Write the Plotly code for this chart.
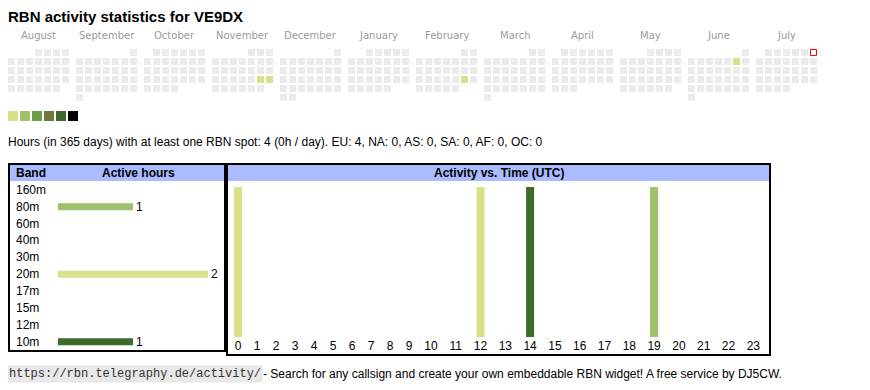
import calendar
import datetime as dt
import plotly.graph_objects as go

# ---------------- data ----------------
CALLSIGN = "VE9DX"
MONTH_NAMES = ["August", "September", "October", "November", "December", "January",
               "February", "March", "April", "May", "June", "July"]
FIRST_MONTH = (2024, 8)
TODAY = "2025-07-06"
ACTIVE_DAYS = ["2024-11-23", "2024-11-24", "2025-02-22", "2025-06-07"]
ACTIVE_DAY_LEVELS = [1, 1, 1, 1]
LEVEL_COLORS = ["#d9e08a", "#9dc26b", "#6a9f47", "#6b7b3c", "#3e6b2b", "#000000"]

BANDS = ["160m", "80m", "60m", "40m", "30m", "20m", "17m", "15m", "12m", "10m"]
BAND_HOURS = [0, 1, 0, 0, 0, 2, 0, 0, 0, 1]
BAND_COLORS = ["#c0c0c0", "#9dc26b", "#c0c0c0", "#c0c0c0", "#c0c0c0",
               "#d9e08a", "#c0c0c0", "#c0c0c0", "#c0c0c0", "#3e6b2b"]

HOURS = list(range(24))
ACTIVE_HOURS = [0, 12, 14, 19]
ACTIVE_HOUR_BANDS = ["20m", "20m", "10m", "80m"]
ACTIVE_HOUR_COUNTS = [1, 1, 1, 1]

CONTINENTS = ["EU", "NA", "AS", "SA", "AF", "OC"]
CONTINENT_HOURS = [4, 0, 0, 0, 0, 0]
TOTAL_HOURS = 4

# ---------------- layout helpers ----------------
# the page body has an 8px margin; the figure therefore starts at screen (8, 8)
OFF = 8
W, H = 862, 382
SANS = "Liberation Sans, Arial, sans-serif"
GREY_CELL = "#ebebeb"
HEADER_BG = "#aabbff"


def fx(px):
    return (px - OFF) / W


def fy(py):
    return 1 - (py - OFF) / H


fig = go.Figure()

# ---- calendar heatmap (canvas axis in screen pixel units) ----
active_map = {d: lv for d, lv in zip(ACTIVE_DAYS, ACTIVE_DAY_LEVELS)}
cx, cy, ccol = [], [], []
today_xy = None
y0, m0 = FIRST_MONTH
for mi in range(12):
    yy = y0 + (m0 - 1 + mi) // 12
    mm = (m0 - 1 + mi) % 12 + 1
    fw = dt.date(yy, mm, 1).weekday()
    nd = calendar.monthrange(yy, mm)[1]
    for d in range(1, nd + 1):
        pos = d - 1 + fw
        x = 11.5 + mi * 68 + (pos % 7) * 9
        y = 52.5 + (pos // 7) * 9
        key = dt.date(yy, mm, d).isoformat()
        cx.append(x)
        cy.append(y)
        lv = active_map.get(key)
        ccol.append(LEVEL_COLORS[lv - 1] if lv else GREY_CELL)
        if key == TODAY:
            today_xy = (x, y)

fig.add_trace(go.Scatter(x=cx, y=cy, mode="markers", xaxis="x", yaxis="y",
                         marker=dict(symbol="square", size=7, color=ccol, line=dict(width=0)),
                         hoverinfo="skip"))
if today_xy:
    fig.add_trace(go.Scatter(x=[today_xy[0]], y=[today_xy[1]], mode="markers",
                             xaxis="x", yaxis="y",
                             marker=dict(symbol="square", size=6, color="#ffffff",
                                         line=dict(width=1, color="#ff0000")),
                             hoverinfo="skip"))

# month labels
for mi, name in enumerate(MONTH_NAMES):
    fig.add_annotation(x=38.5 + mi * 68, y=35, xref="x", yref="y", text=name,
                       showarrow=False, xanchor="center", yanchor="middle",
                       font=dict(family="DejaVu Sans", size=10, color="#9a9a9a"))

# colour legend
fig.add_trace(go.Scatter(x=[13 + i * 12 for i in range(len(LEVEL_COLORS))],
                         y=[116] * len(LEVEL_COLORS), mode="markers", xaxis="x", yaxis="y",
                         marker=dict(symbol="square", size=10, color=LEVEL_COLORS,
                                     line=dict(width=0)),
                         hoverinfo="skip"))

# ---- band bars ----
fig.add_trace(go.Bar(y=BANDS, x=BAND_HOURS, orientation="h", xaxis="x2", yaxis="y2",
                     marker=dict(color=BAND_COLORS, line=dict(width=0)), width=0.42,
                     text=[str(v) if v else "" for v in BAND_HOURS], textposition="outside",
                     cliponaxis=False, constraintext="none",
                     textfont=dict(family=SANS, size=12, color="#000"), hoverinfo="skip"))

# ---- hour bars ----
hour_x = []
left = 228.5
for h in HOURS:
    w = 19.0 if h < 10 else 24.8
    hour_x.append(left + w / 2)
    left += w

band_color = dict(zip(BANDS, BAND_COLORS))
for b in dict.fromkeys(ACTIVE_HOUR_BANDS):
    xs = [hour_x[h] for h, bb in zip(ACTIVE_HOURS, ACTIVE_HOUR_BANDS) if bb == b]
    ys = [c for c, bb in zip(ACTIVE_HOUR_COUNTS, ACTIVE_HOUR_BANDS) if bb == b]
    fig.add_trace(go.Bar(x=xs, y=ys, width=8, xaxis="x3", yaxis="y3",
                         marker=dict(color=band_color[b], line=dict(width=0)),
                         hoverinfo="skip"))


# ---- text ----
def ann(x, y, text, size=12, bold=False, family=SANS, xanchor="left", color="#000", **kw):
    fig.add_annotation(x=x, y=y, xref="x", yref="y", text=text, showarrow=False,
                       xanchor=xanchor, yanchor="middle",
                       font=dict(family=family, size=size, color=color,
                                 weight="bold" if bold else "normal"), **kw)


ann(8, 16, f"RBN activity statistics for {CALLSIGN}", size=15, bold=True, xshift=-2)
cont = ", ".join(f"{c}: {v}" for c, v in zip(CONTINENTS, CONTINENT_HOURS))
ann(8, 142, f"Hours (in 365 days) with at least one RBN spot: {TOTAL_HOURS} "
            f"({TOTAL_HOURS / 365:.0f}h / day). {cont}", size=12, xshift=-2)

ann(14, 173, "Band", size=12, bold=True)
ann(138, 173, "Active hours", size=12, bold=True, xanchor="center")
ann(498.5, 173, "Activity vs. Time (UTC)", size=12, bold=True, xanchor="center")

for b in BANDS:
    fig.add_annotation(x=fx(14), y=b, xref="paper", yref="y2", text=b, showarrow=False,
                       xanchor="left", yanchor="middle",
                       font=dict(family=SANS, size=12, color="#000"))

ann(8, 374, "https://rbn.telegraphy.de/activity/", size=12,
    family="Liberation Mono, Courier New, monospace", color="#333", bgcolor="#e8e8e8",
    borderpad=1, xshift=-1)
ann(261, 374, "- Search for any callsign and create your own embeddable RBN widget! "
              "A free service by DJ5CW.", size=12)

# ---- boxes ----
shapes = [
    dict(type="rect", x0=10, x1=224, y0=165, y1=181, fillcolor=HEADER_BG, line=dict(width=0),
         layer="below"),
    dict(type="rect", x0=228, x1=769, y0=165, y1=181, fillcolor=HEADER_BG, line=dict(width=0),
         layer="below"),
    dict(type="rect", x0=9, x1=225, y0=164, y1=351, line=dict(color="#000", width=2)),
    dict(type="rect", x0=227, x1=770, y0=164, y1=355, line=dict(color="#000", width=2)),
]
for s in shapes:
    s.update(xref="x", yref="y")

row_top, row_h = 180.8, 17
fig.update_layout(
    width=W, height=H, margin=dict(l=0, r=0, t=0, b=0),
    paper_bgcolor="#ffffff", plot_bgcolor="rgba(0,0,0,0)", showlegend=False,
    shapes=shapes, barmode="overlay",
    xaxis=dict(domain=[0, 1], range=[OFF, OFF + W], visible=False, fixedrange=True),
    yaxis=dict(domain=[0, 1], range=[OFF + H, OFF], visible=False, fixedrange=True),
    xaxis2=dict(domain=[fx(58), fx(58 + 2.2 * 75)], range=[0, 2.2], visible=False,
                anchor="y2"),
    yaxis2=dict(domain=[fy(row_top + row_h * len(BANDS)), fy(row_top)],
                categoryorder="array", categoryarray=BANDS, autorange="reversed",
                visible=False, anchor="x2"),
    xaxis3=dict(domain=[0, 1], range=[OFF, OFF + W], anchor="y3", tickvals=hour_x,
                ticktext=[str(h) for h in HOURS], ticks="", showgrid=False, zeroline=False,
                showline=False, tickfont=dict(family=SANS, size=12, color="#000")),
    yaxis3=dict(domain=[fy(337), fy(187)], range=[0, max(ACTIVE_HOUR_COUNTS)],
                visible=False, anchor="x3"),
)

fig.write_html("out.html")
